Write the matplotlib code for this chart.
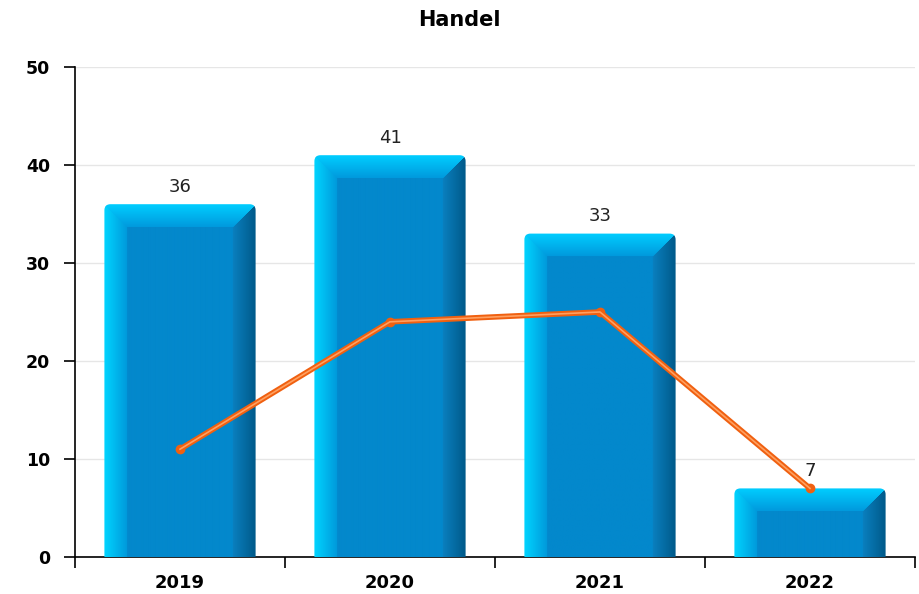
import numpy as np
import matplotlib.pyplot as plt
from matplotlib.patches import FancyBboxPatch
from matplotlib.colors import to_rgb

# data
years = ["2019", "2020", "2021", "2022"]
bar_values = [36, 41, 33, 7]
line_values = [11, 24, 25, 7]

# style
BAR_W = 0.72
DEPTH_PX = 23
Y_MAX = 50
AX_W_PX, AX_H_PX = 840, 490

FACE = np.array(to_rgb("#0388cc"))
TOP = (np.array(to_rgb("#00cdff")), np.array(to_rgb("#0098dc")))
LEFT = (np.array(to_rgb("#00d4ff")), np.array(to_rgb("#0098da")))
RIGHT = (np.array(to_rgb("#0a80c0")), np.array(to_rgb("#005a8a")))


def bevel_image(w, h, d):
    """rgb array for a bevelled bar of w x h pixels"""
    r = np.arange(h)[:, None] * np.ones((1, w))
    c = np.ones((h, 1)) * np.arange(w)[None, :]
    cr = w - 1 - c
    img = np.ones((h, w, 3)) * FACE
    top = (r < d) & (r <= c) & (r <= cr)
    left = (c < d) & (c < r) & (c <= cr)
    right = (cr < d) & (cr < r) & (cr < c)
    t = np.clip(r / d, 0, 1)[..., None]
    img = np.where(top[..., None], TOP[0] * (1 - t) + TOP[1] * t, img)
    t = np.clip(c / d, 0, 1)[..., None]
    img = np.where(left[..., None], LEFT[0] * (1 - t) + LEFT[1] * t, img)
    t = np.clip(1 - cr / d, 0, 1)[..., None]
    img = np.where(right[..., None], RIGHT[0] * (1 - t) + RIGHT[1] * t, img)
    return img


fig = plt.figure(figsize=(9.19, 5.94), dpi=100)
ax = fig.add_axes([75 / 919, 37 / 594, AX_W_PX / 919, AX_H_PX / 594])

x = np.arange(len(years))
px_x = AX_W_PX / len(years)      # pixels per x unit
px_y = AX_H_PX / Y_MAX           # pixels per y unit

bars = ax.bar(x, bar_values, width=BAR_W, color="none", zorder=2)

for b in bars:
    x0 = b.get_x()
    w = b.get_width()
    h = b.get_height()
    w_px = int(round(w * px_x))
    h_px = int(round(h * px_y))
    d = min(DEPTH_PX, h_px * 0.45)
    img = bevel_image(w_px, h_px, d)

    rad = 6 / px_x
    outline = FancyBboxPatch((x0, -5), w, h + 5,
                             boxstyle=f"round,pad=0,rounding_size={rad}",
                             mutation_aspect=px_x / px_y,
                             transform=ax.transData, facecolor="none",
                             edgecolor="none")
    ax.add_patch(outline)
    im = ax.imshow(img, extent=(x0, x0 + w, 0, h), origin="upper",
                   aspect="auto", interpolation="bilinear", zorder=3)
    im.set_clip_path(outline)

    ax.annotate(str(int(h)), (x0 + w / 2, h),
                xytext=(0, 6), textcoords="offset points",
                ha="center", va="bottom", fontsize=13, color="#222222", zorder=6)

# line
ax.plot(x, line_values, color="#f06010", lw=4, zorder=4,
        marker="o", markersize=6, solid_capstyle="round")
ax.plot(x, line_values, color="#ffa060", lw=1.2, zorder=5)

ax.set_aspect("auto")
ax.set_xlim(-0.5, len(years) - 0.5)
ax.set_ylim(0, Y_MAX)

# axes styling
yt = list(range(0, Y_MAX + 1, 10))
ax.set_yticks(yt)
ax.set_yticklabels([str(v) for v in yt], fontweight="bold", fontsize=12.5)
ax.yaxis.grid(True, color="#e6e6e6", lw=1)
ax.set_axisbelow(True)
ax.set_xticks(np.arange(-0.5, len(years), 1.0))
ax.set_xticklabels([])
ax.set_xticks(x, minor=True)
ax.set_xticklabels(years, minor=True, fontweight="bold", fontsize=13)
ax.tick_params(axis="x", which="major", direction="out", length=8, width=1.2)
ax.tick_params(axis="x", which="minor", length=0, pad=12)
ax.tick_params(axis="y", direction="out", length=8, width=1.2, pad=10)

for s in ["top", "right"]:
    ax.spines[s].set_visible(False)
for s in ["left", "bottom"]:
    ax.spines[s].set_linewidth(1.2)

fig.text(0.5, 1 - 20 / 594, "Handel", ha="center", va="center",
         fontsize=15, fontweight="bold")

fig.savefig("out.png", dpi=100)
